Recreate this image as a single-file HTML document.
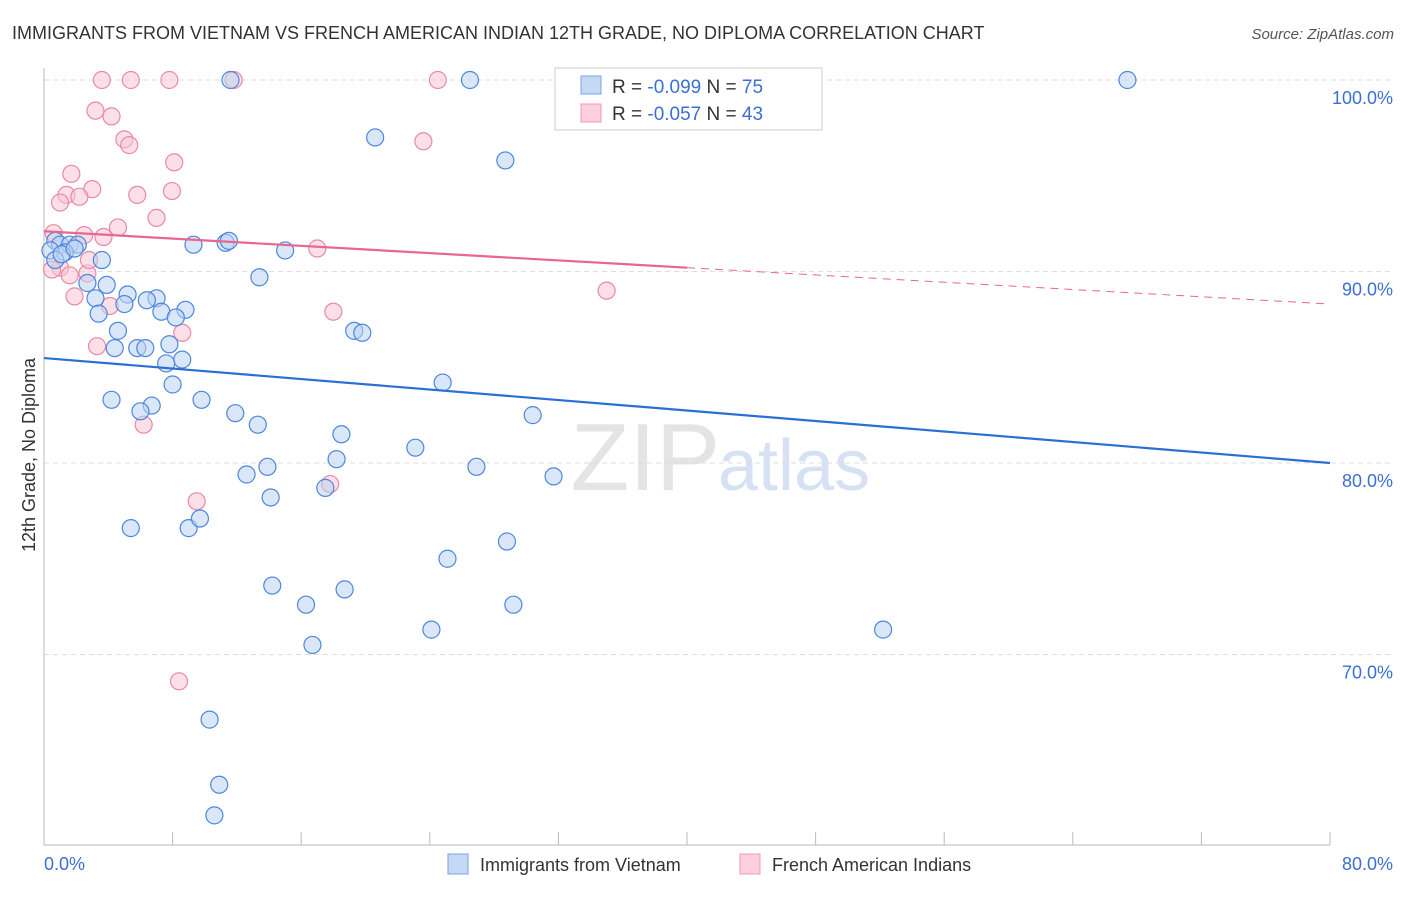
<!DOCTYPE html>
<html><head><meta charset="utf-8"><style>
body{margin:0;background:#fff;font-family:"Liberation Sans",sans-serif;}
svg text{font-family:"Liberation Sans",sans-serif;}
</style></head><body>
<svg id="chart" width="1406" height="892" xmlns="http://www.w3.org/2000/svg">
<text x="12" y="39" font-size="18" fill="#333">IMMIGRANTS FROM VIETNAM VS FRENCH AMERICAN INDIAN 12TH GRADE, NO DIPLOMA CORRELATION CHART</text>
<text x="1394" y="39" font-size="15" fill="#555" text-anchor="end" font-style="italic">Source: ZipAtlas.com</text>
<text x="720" y="490" font-size="96" fill="#e4e4e4" text-anchor="end" font-family="Liberation Serif">ZIP</text>
<text x="718" y="490" font-size="72" fill="#d6e2f3">atlas</text>
<g id="grid"></g><g id="axes"></g><g id="pts"></g><g id="trend"></g>
<text transform="translate(35,455) rotate(-90)" font-size="18" fill="#333" text-anchor="middle">12th Grade, No Diploma</text>
<text x="44" y="870" font-size="18" fill="#3b6fd4">0.0%</text>
<text x="1393" y="870" font-size="18" fill="#3b6fd4" text-anchor="end">80.0%</text>
<g>
<rect x="555" y="68" width="267" height="62" fill="#fff" stroke="#ccc"/>
<rect x="581" y="76" width="20" height="18" fill="#c5d9f5" stroke="#7aa3e0"/>
<rect x="581" y="104" width="20" height="18" fill="#fbd0dc" stroke="#ee9ab2"/>
<text x="612" y="93" font-size="19" fill="#333">R = <tspan fill="#3b6fd4">-0.099</tspan>   N = <tspan fill="#3b6fd4">75</tspan></text>
<text x="612" y="120" font-size="19" fill="#333">R = <tspan fill="#3b6fd4">-0.057</tspan>   N = <tspan fill="#3b6fd4">43</tspan></text>
</g>
<g><rect x="448" y="854" width="20" height="20" fill="#c5d9f5" stroke="#7aa3e0"/><text x="480" y="871" font-size="18" fill="#333">Immigrants from Vietnam</text></g>
<g><rect x="740" y="854" width="20" height="20" fill="#fbd0dc" stroke="#ee9ab2"/><text x="772" y="871" font-size="18" fill="#333">French American Indians</text></g>
</svg>
<script>
const yTicks=[100,90,80,70];
const xTicks=[0,8,16,24,32,40,48,56,64,72,80];
const blueX=[11.6,26.5,43.2,67.4,20.6,28.7,0.7,1.0,1.6,2.1,1.3,0.4,9.3,11.3,11.5,15.0,3.6,3.9,2.7,13.4,3.2,5.2,7.0,6.4,5.0,3.4,7.3,8.8,8.2,4.6,19.3,19.8,4.4,5.8,6.3,7.8,8.6,7.6,24.8,8.0,4.2,6.7,9.8,6.0,11.9,30.4,13.3,18.5,23.1,18.2,26.9,13.9,12.6,31.7,14.1,17.5,5.4,9.0,9.7,25.1,28.8,14.2,18.7,16.3,29.2,24.1,52.2,16.7,10.3,10.9,10.6,0.7,1.1,1.9];
const blueY=[100,100,100,100,97.0,95.8,91.6,91.4,91.4,91.4,91.0,91.1,91.4,91.5,91.6,91.1,90.6,89.3,89.4,89.7,88.6,88.8,88.6,88.5,88.3,87.8,87.9,88.0,87.6,86.9,86.9,86.8,86.0,86.0,86.0,86.2,85.4,85.2,84.2,84.1,83.3,83.0,83.3,82.7,82.6,82.5,82.0,81.5,80.8,80.2,79.8,79.8,79.4,79.3,78.2,78.7,76.6,76.6,77.1,75.0,75.9,73.6,73.4,72.6,72.6,71.3,71.3,70.5,66.6,63.2,61.6,90.6,90.9,91.2];
const pinkX=[3.6,5.4,7.8,11.8,24.5,3.2,4.2,5.0,5.3,23.6,8.1,1.7,3.0,1.4,2.2,1.0,5.8,7.96,7.0,4.6,0.6,2.5,3.7,17.0,1.0,1.6,0.5,2.7,2.8,1.9,4.1,18.0,35.0,8.6,3.3,6.2,17.8,9.5,8.4];
const pinkY=[100,100,100,100,100,98.4,98.1,96.9,96.6,96.8,95.7,95.1,94.3,94.0,93.9,93.6,94.0,94.2,92.8,92.3,92.0,91.9,91.8,91.2,90.2,89.8,90.1,89.9,90.6,88.7,88.2,87.9,89.0,86.8,86.1,82.0,78.9,78.0,68.6];
const blueTrend=[85.48,80.0];
const pinkTrend=[92.1,88.3];
const NS='http://www.w3.org/2000/svg';
const sx=v=>44+v*16.075, sy=v=>80+(100-v)*19.15;
function mk(t,a,p){const e=document.createElementNS(NS,t);for(const k in a)e.setAttribute(k,a[k]);document.getElementById(p).appendChild(e);return e;}
yTicks.forEach(v=>{
 const l=mk('line',{x1:44,x2:1393,y1:sy(v),y2:sy(v),stroke:'#ddd','stroke-dasharray':'5,4'},'grid');
 
 
 const t=mk('text',{x:1393,y:sy(v)+24,'font-size':18,fill:'#3b6fd4','text-anchor':'end'},'grid');
 t.textContent=v.toFixed(1)+'%';
 
 
});
const ax=mk('line',{x1:44,x2:44,y1:68,y2:845,stroke:'#bbb'},'axes');


const bx=mk('line',{x1:44,x2:1330,y1:845,y2:845,stroke:'#bbb'},'axes');


xTicks.forEach(v=>{
 const l=mk('line',{x1:sx(v),x2:sx(v),y1:832,y2:845,stroke:'#bbb'},'axes');
 
 
});
function pts(X,Y,fill,stroke,name){X.forEach((x,i)=>{
 const c=mk('circle',{cx:sx(x),cy:sy(Y[i]),r:8.5,fill:fill,'fill-opacity':0.55,stroke:stroke,'stroke-width':1.2},'pts');
 
 
});}
pts(pinkX,pinkY,'#f9c4d3','#e88aa6','point-french-american-indian');
pts(blueX,blueY,'#bcd3f3','#4d86dc','point-vietnam');
const bt=mk('line',{x1:sx(0),y1:sy(blueTrend[0]),x2:sx(80),y2:sy(blueTrend[1]),stroke:'#2a6fd6','stroke-width':2.2},'trend');


const pm=pinkTrend[0]+(pinkTrend[1]-pinkTrend[0])*0.5;
const pt=mk('line',{x1:sx(0),y1:sy(pinkTrend[0]),x2:sx(40),y2:sy(pm),stroke:'#e8668f','stroke-width':2.2},'trend');


const pd=mk('line',{x1:sx(40),y1:sy(pm),x2:sx(80),y2:sy(pinkTrend[1]),stroke:'#e8668f','stroke-width':1,'stroke-dasharray':'8,6'},'trend');


</script>
</body></html>
